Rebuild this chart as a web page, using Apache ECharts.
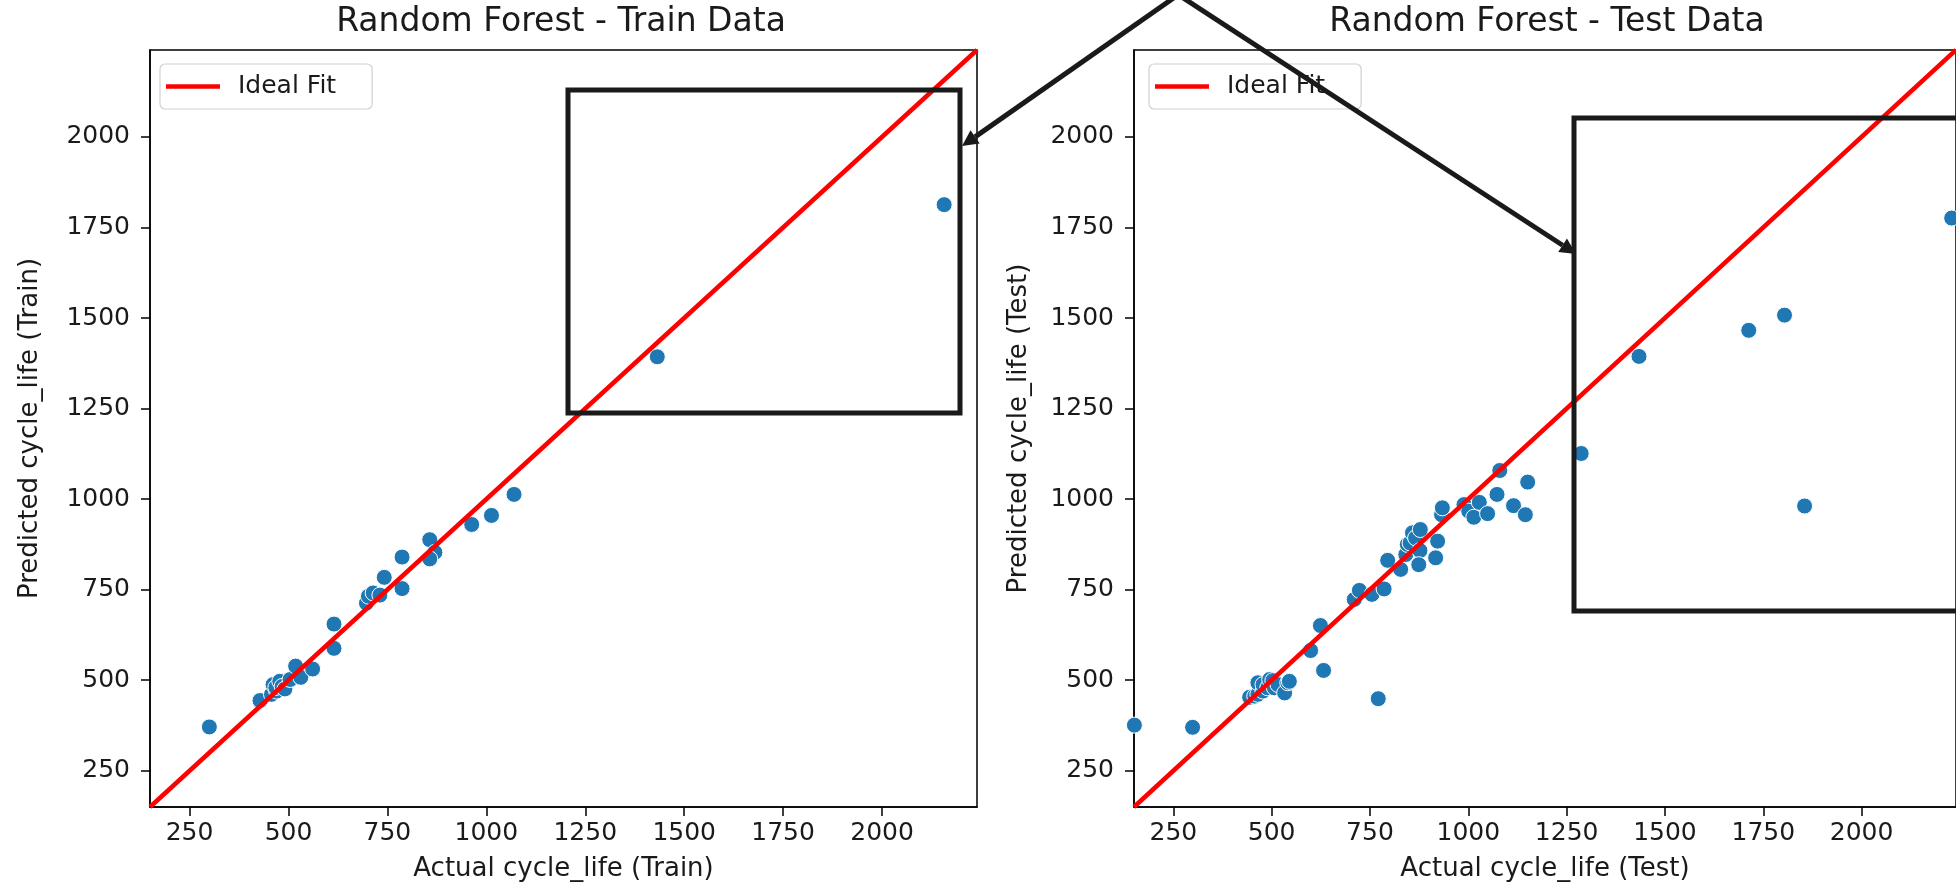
<!DOCTYPE html>
<html>
<head>
<meta charset="utf-8">
<title>Random Forest - Train / Test</title>
<script src="https://cdn.jsdelivr.net/npm/echarts@6/dist/echarts.min.js"></script>
<style>
  html, body { margin: 0; padding: 0; background: #fff; }
  #chart { width: 1956px; height: 889px; }
</style>
</head>
<body>
<div id="chart"></div>
<script>
// 训练集：实际值 / 预测值
var trainActual = [300, 428, 457, 461, 470, 468, 478, 484, 491, 504, 518, 531, 561, 615, 615,
                   697, 702, 714, 731, 742, 787, 787, 857, 870, 857, 963, 1013, 1070, 1432, 2157];
var trainPred   = [371, 444, 461, 488, 470, 480, 497, 483, 476, 502, 539, 508, 531, 655, 588,
                   713, 732, 741, 735, 784, 840, 753, 888, 853, 835, 930, 955, 1013, 1393, 1813];

// 测试集：实际值 / 预测值
var testActual = [151, 299, 444, 457, 465, 465, 478, 478, 490, 495, 503, 507, 516, 533, 541, 545,
                  599, 624, 632, 771, 710, 723, 755, 786, 795, 828, 841, 845, 852, 858, 866, 877,
                  874, 878, 917, 922, 932, 934, 989, 1001, 1014, 1028, 1049, 1073, 1080, 1115, 1145,
                  1151, 1287, 1434, 1713, 1804, 1855, 2229];
var testPred   = [376, 370, 453, 456, 461, 493, 470, 488, 479, 502, 499, 479, 488, 465, 493, 497,
                  582, 651, 527, 449, 723, 748, 737, 752, 831, 806, 847, 875, 879, 907, 893, 858,
                  819, 916, 838, 884, 957, 976, 985, 967, 950, 991, 960, 1013, 1079, 982, 957,
                  1047, 1126, 1394, 1466, 1508, 981, 1776];

// 坐标轴范围、刻度、理想拟合线
var axisRange = [150, 2240];
var tickValues = [250, 500, 750, 1000, 1250, 1500, 1750, 2000];
var idealFit = [150, 2240];

function pairs(a, b) {
    return a.map(function (v, i) { return [v, b[i]]; });
}

var font = 'DejaVu Sans';
var textColor = '#1a1a1a';

//坐标轴配置
function valueAxis(gridIndex, name, nameGap, labelMargin) {
    return {
        type: 'value',
        gridIndex: gridIndex,
        min: axisRange[0],
        max: axisRange[1],
        name: name,
        nameLocation: 'middle',
        nameGap: nameGap,
        nameTextStyle: { fontFamily: font, fontSize: 26, color: textColor },
        axisLine: { show: true, lineStyle: { color: '#000', width: 1.5 } },
        axisTick: { show: true, length: 9, customValues: tickValues, lineStyle: { color: '#000', width: 1.5 } },
        axisLabel: {
            customValues: tickValues, margin: labelMargin,
            fontFamily: font, fontSize: 25, color: textColor,
            formatter: function (v) { return String(v); }
        },
        splitLine: { show: false }
    };
}

function legendAt(left) {
    return {
        left: left,
        top: 64,
        orient: 'vertical',
        data: ['Ideal Fit'],
        icon: 'rect',
        itemWidth: 54,
        itemHeight: 4.5,
        padding: [10, 36, 10, 6],
        borderColor: '#d0d0d0',
        borderWidth: 1.2,
        borderRadius: 5,
        backgroundColor: '#fff',
        textStyle: { fontFamily: font, fontSize: 25, color: textColor, padding: [0, 0, 0, 13] }
    };
}

// 箭头：线段 + 三角形箭头
function arrow(x1, y1, x2, y2) {
    var dx = x2 - x1, dy = y2 - y1;
    var len = Math.sqrt(dx * dx + dy * dy);
    var ux = dx / len, uy = dy / len;
    var hl = 16, hw = 8;
    var bx = x2 - ux * hl, by = y2 - uy * hl;
    return [
        { type: 'line', z: 100, shape: { x1: x1, y1: y1, x2: bx, y2: by },
          style: { stroke: '#1a1a1a', lineWidth: 5 } },
        { type: 'polygon', z: 100,
          shape: { points: [[x2, y2], [bx - uy * hw, by + ux * hw], [bx + uy * hw, by - ux * hw]] },
          style: { fill: '#1a1a1a' } }
    ];
}

var chart = echarts.init(document.getElementById('chart'));

var option = {
    backgroundColor: '#fff',
    animation: false,
    title: [
        { text: 'Random Forest - Train Data', left: 556, top: 1, textAlign: 'center',
          textStyle: { fontFamily: font, fontSize: 33, fontWeight: 'normal', color: textColor } },
        { text: 'Random Forest - Test Data', left: 1542, top: 1, textAlign: 'center',
          textStyle: { fontFamily: font, fontSize: 33, fontWeight: 'normal', color: textColor } }
    ],
    legend: [legendAt(160), legendAt(1149)],
    grid: [
        { left: 150, top: 50, width: 827, height: 757, show: true, borderColor: '#000', borderWidth: 1.5 },
        { left: 1134, top: 50, width: 827, height: 757, show: true, borderColor: '#000', borderWidth: 1.5 }
    ],
    xAxis: [
        valueAxis(0, 'Actual cycle_life (Train)', 49, 14),
        valueAxis(1, 'Actual cycle_life (Test)', 49, 14)
    ],
    yAxis: [
        valueAxis(0, 'Predicted cycle_life (Train)', 107, 20),
        valueAxis(1, 'Predicted cycle_life (Test)', 102, 20)
    ],
    series: [
        { name: 'Train', type: 'scatter', xAxisIndex: 0, yAxisIndex: 0,
          data: pairs(trainActual, trainPred), symbolSize: 16,
          itemStyle: { color: '#1f77b4', borderColor: '#fff', borderWidth: 1, opacity: 1 } },
        { name: 'Ideal Fit', type: 'line', xAxisIndex: 0, yAxisIndex: 0,
          data: [[idealFit[0], idealFit[0]], [idealFit[1], idealFit[1]]],
          showSymbol: false, lineStyle: { color: '#ff0000', width: 4.5 }, itemStyle: { color: '#ff0000' } },
        { name: 'Test', type: 'scatter', xAxisIndex: 1, yAxisIndex: 1,
          data: pairs(testActual, testPred), symbolSize: 16,
          itemStyle: { color: '#1f77b4', borderColor: '#fff', borderWidth: 1, opacity: 1 } },
        { name: 'Ideal Fit', type: 'line', xAxisIndex: 1, yAxisIndex: 1,
          data: [[idealFit[0], idealFit[0]], [idealFit[1], idealFit[1]]],
          showSymbol: false, lineStyle: { color: '#ff0000', width: 4.5 }, itemStyle: { color: '#ff0000' } }
    ],
    // 标注：放大框 + 箭头
    graphic: [
        { type: 'rect', z: 100, shape: { x: 568, y: 90, width: 392, height: 323 },
          style: { fill: 'none', stroke: '#1a1a1a', lineWidth: 5 } },
        { type: 'rect', z: 100, shape: { x: 1574, y: 118, width: 420, height: 493 },
          style: { fill: 'none', stroke: '#1a1a1a', lineWidth: 5 } }
    ].concat(arrow(1185, -10, 962, 146)).concat(arrow(1171, -10, 1576, 254))
};

chart.setOption(option);
</script>
</body>
</html>
